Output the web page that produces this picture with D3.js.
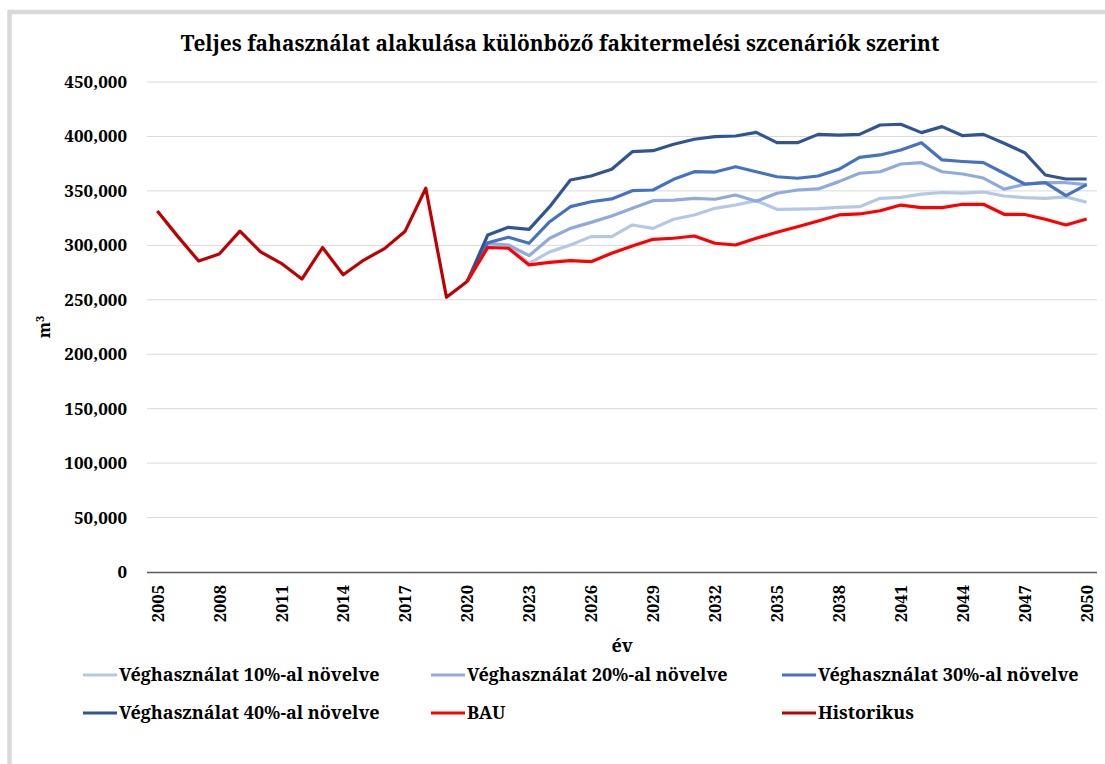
<!DOCTYPE html>
<html>
<head>
<meta charset="utf-8">
<script src="https://cdn.jsdelivr.net/npm/d3@7"></script>
<style>
    body { margin: 0; background: #fff; }
</style>
</head>
<body>
<svg id="chart"></svg>
<script>
// years on the category axis
let years = d3.range(2005, 2051);
let scenarioYears = d3.range(2020, 2051);

let histYears = d3.range(2005, 2021);
let historikus = [331500, 308000, 285600, 292000, 313000, 294000, 283500, 269000, 298000, 273000,
    286500, 297000, 313000, 352400, 252300, 266700];

let bau = [266700, 298000, 297300, 282000, 284400, 285900, 285000, 292700, 299400, 305500,
    306500, 308600, 301900, 300300, 306500, 312000, 317000, 322400, 327900, 328800,
    331800, 337000, 334600, 334600, 337700, 337700, 328500, 328300, 324000, 318700, 324200];

let veg10 = [266700, 300000, 299400, 283500, 294000, 300300, 308000, 308000, 318700, 315600,
    323900, 327900, 334000, 337000, 341000, 333100, 333300, 333700, 334900, 335500,
    343200, 344100, 347000, 348500, 348000, 349000, 345300, 343800, 343200, 344500, 339500];

let veg20 = [266700, 301900, 300300, 290500, 306500, 315600, 321100, 327000, 334000, 341000,
    341600, 343200, 342300, 346200, 340500, 347800, 350800, 351800, 358500, 366200,
    367600, 374700, 375900, 367600, 365500, 361800, 351600, 356100, 357700, 357500, 355800];

let veg30 = [266700, 302400, 307400, 301900, 321700, 335500, 340000, 342600, 350200, 350800,
    360600, 367600, 367300, 372200, 367600, 363000, 361600, 363700, 369800, 380800,
    383000, 387500, 394300, 378400, 377000, 375900, 366200, 356300, 357600, 345600, 355800];

let veg40 = [266700, 309500, 316500, 314700, 335500, 360000, 363700, 369800, 386000, 386900,
    392800, 397400, 399800, 400400, 403800, 394300, 394300, 401900, 401300, 401900,
    410500, 411200, 403500, 409000, 400700, 401900, 393700, 385100, 364600, 360900, 360900];

let yTicks = [0, 50000, 100000, 150000, 200000, 250000, 300000, 350000, 400000, 450000];

let seriesNames = ['Véghasználat 10%-al növelve', 'Véghasználat 20%-al növelve', 'Véghasználat 30%-al növelve',
    'Véghasználat 40%-al növelve', 'BAU', 'Historikus'];
let seriesColors = ['#b4c7e7', '#8faadc', '#4472c4', '#2f5597', '#ff0000', '#c00000'];

let series = [
    {name: seriesNames[0], x: scenarioYears, y: veg10},
    {name: seriesNames[1], x: scenarioYears, y: veg20},
    {name: seriesNames[2], x: scenarioYears, y: veg30},
    {name: seriesNames[3], x: scenarioYears, y: veg40},
    {name: seriesNames[4], x: scenarioYears, y: bau},
    {name: seriesNames[5], x: histYears, y: historikus}
];

let font = "'Noto Serif', 'Liberation Serif', serif";

let width = 1105, height = 764;
let plot = {left: 147, right: 1097, top: 82, bottom: 572};

let svg = d3.select('#chart')
    .attr('width', width)
    .attr('height', height);

// grey frame of the original chart area (cut off on right / bottom)
svg.append('path')
    .attr('d', 'M9.5,' + height + 'V12H' + width)
    .attr('fill', 'none')
    .attr('stroke', '#d9d9d9')
    .attr('stroke-width', 4.5);

let xScale = d3.scalePoint()
    .domain(years)
    .range([plot.left, plot.right])
    .padding(0.5);

let yScale = d3.scaleLinear()
    .domain([0, 450000])
    .range([plot.bottom, plot.top]);

// gridlines
svg.append('g')
    .selectAll('line')
    .data(yTicks.slice(1))
    .enter()
    .append('line')
    .attr('x1', plot.left)
    .attr('x2', plot.right)
    .attr('y1', function (d) { return yScale(d); })
    .attr('y2', function (d) { return yScale(d); })
    .attr('stroke', '#d9d9d9')
    .attr('stroke-width', 1);

let yAxis = d3.axisLeft(yScale)
    .tickValues(yTicks)
    .tickFormat(d3.format(','))
    .tickSize(0)
    .tickPadding(20);

svg.append('g')
    .attr('transform', 'translate(' + plot.left + ',0)')
    .call(yAxis)
    .call(function (g) { g.select('.domain').remove(); })
    .selectAll('text')
    .style('font-family', font)
    .style('font-weight', 'bold')
    .style('font-size', '17px')
    .style('fill', '#000');

let xAxis = d3.axisBottom(xScale)
    .tickValues(years.filter(function (d) { return (d - 2005) % 3 === 0; }))
    .tickSize(0);

let xg = svg.append('g')
    .attr('transform', 'translate(0,' + plot.bottom + ')')
    .call(xAxis);

xg.select('.domain')
    .attr('d', 'M' + plot.left + ',0.5H' + plot.right)
    .attr('stroke', '#595959')
    .attr('stroke-width', 1.3);

xg.selectAll('text')
    .attr('transform', 'rotate(-90)')
    .attr('x', -13)
    .attr('y', 0)
    .attr('dy', '0.35em')
    .style('text-anchor', 'end')
    .style('font-family', font)
    .style('font-weight', 'bold')
    .style('font-size', '16.5px')
    .style('fill', '#000');

// lines
let line = d3.line()
    .x(function (d) { return xScale(d[0]); })
    .y(function (d) { return yScale(d[1]); });

svg.append('g')
    .selectAll('path')
    .data(series)
    .enter()
    .append('path')
    .attr('d', function (s) { return line(d3.zip(s.x, s.y)); })
    .attr('fill', 'none')
    .attr('stroke', function (s, i) { return seriesColors[i]; })
    .attr('stroke-width', 3.2)
    .attr('stroke-linejoin', 'round');

// titles
svg.append('text')
    .attr('x', 560)
    .attr('y', 51)
    .attr('text-anchor', 'middle')
    .style('font-family', font)
    .style('font-weight', 'bold')
    .style('font-size', '20.8px')
    .text('Teljes fahasználat alakulása különböző fakitermelési szcenáriók szerint');

let mLabel = svg.append('text')
    .attr('transform', 'translate(50,327) rotate(-90)')
    .attr('text-anchor', 'middle')
    .style('font-family', font)
    .style('font-weight', 'bold')
    .style('font-size', '16.5px');
mLabel.append('tspan').text('m');
mLabel.append('tspan').attr('dy', -6).style('font-size', '11px').text('3');

svg.append('text')
    .attr('x', 622)
    .attr('y', 652)
    .attr('text-anchor', 'middle')
    .style('font-family', font)
    .style('font-weight', 'bold')
    .style('font-size', '18px')
    .text('év');

// legend, 3 columns x 2 rows
let legCols = [83, 431, 782];
let legRows = [675, 713];

let legend = svg.append('g')
    .selectAll('g')
    .data(seriesNames)
    .enter()
    .append('g')
    .attr('transform', function (d, i) {
        return 'translate(' + legCols[i % 3] + ',' + legRows[Math.floor(i / 3)] + ')';
    });

legend.append('line')
    .attr('x1', 0)
    .attr('x2', 34)
    .attr('stroke', function (d, i) { return seriesColors[i]; })
    .attr('stroke-width', 3.2);

legend.append('text')
    .attr('x', 36)
    .attr('dy', '0.35em')
    .style('font-family', font)
    .style('font-weight', 'bold')
    .style('font-size', '18px')
    .text(function (d) { return d; });
</script>
</body>
</html>
